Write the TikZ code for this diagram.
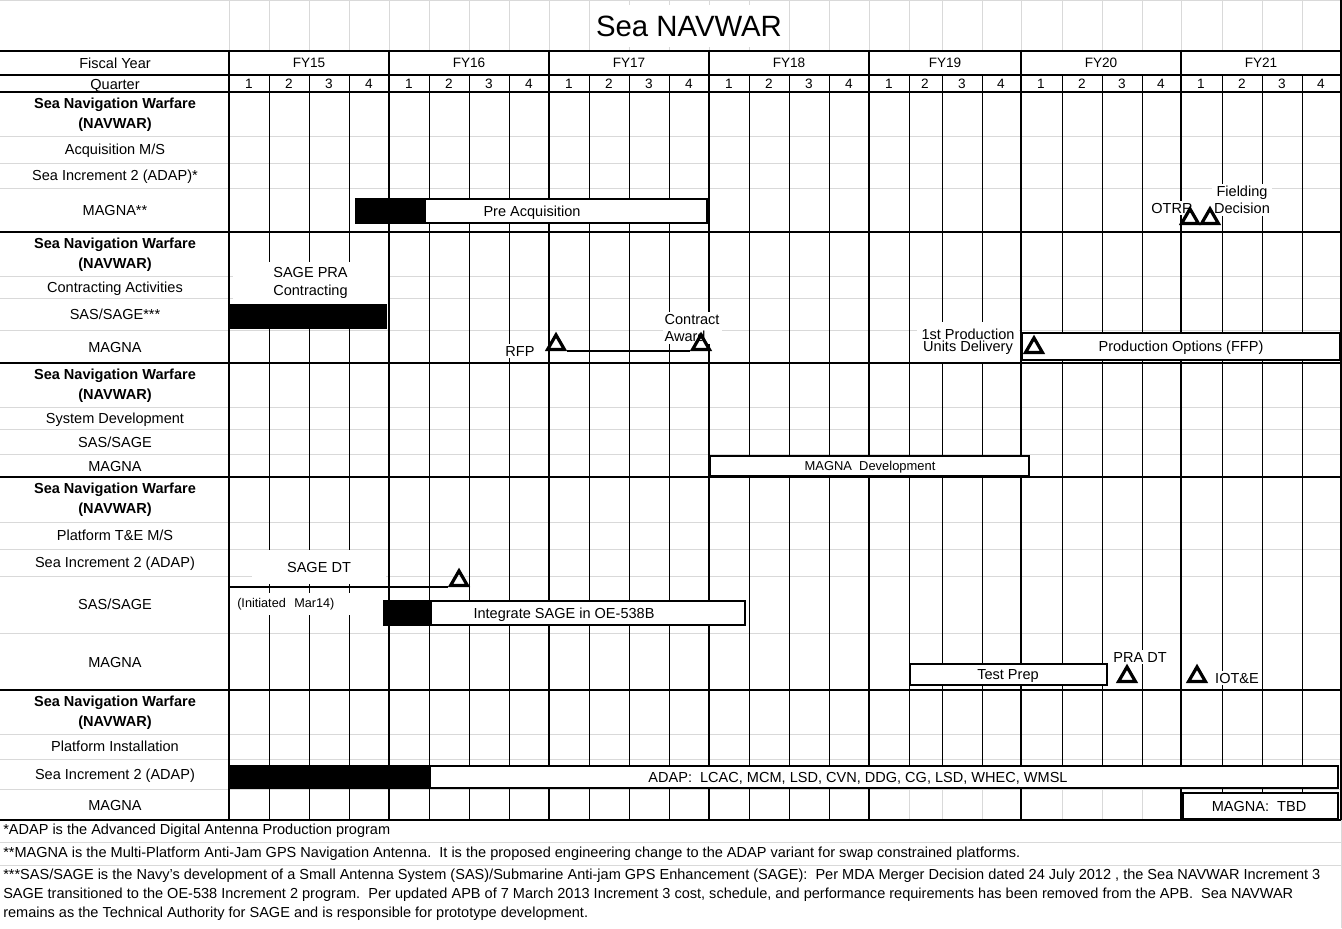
\documentclass[tikz,border=0pt]{standalone}
\usepackage{fontspec}
\setmainfont{Liberation Sans}
\usetikzlibrary{shapes.geometric,positioning}
\definecolor{gridgray}{HTML}{D9D9D9}
\newcommand\lblsize{\fontsize{10.9}{13.5}\selectfont}
\newcommand\fysize{\fontsize{10.2}{11}\selectfont}
\newcommand\notesize{\fontsize{9.5}{11}\selectfont}
\newcommand\titlesize{\fontsize{22}{24}\selectfont}
\tikzset{
  thingrid/.style={draw=gridgray, line width=0.75pt},
  qline/.style={draw=black, line width=0.75pt},
  fyline/.style={draw=black, line width=1.6pt},
  secline/.style={draw=black, line width=0.9pt},
  oneline/.style={text height=0.72em, text depth=0pt},
  rowlabel/.style={font=\lblsize, align=center, inner sep=0pt, oneline},
  sechead/.style={font=\lblsize\bfseries, align=center, inner sep=0pt},
  fytext/.style={font=\fysize, inner sep=0pt, oneline},
  charttext/.style={font=\lblsize, inner sep=0pt, oneline},
  maskbox/.style={fill=white, inner sep=1.5pt, align=center, font=\lblsize},
  barbox/.style={draw=black, fill=white, line width=2.2pt},
  barblack/.style={draw=black, fill=black, line width=2.2pt},
  milestone/.style={
    regular polygon,
    regular polygon sides=3,
    draw=black,
    line width=2.4pt,
    inner sep=0pt,
    minimum size=14.5pt,
    anchor=side 2
  },
  mslink/.style={draw=black, line width=1.9pt},
  footnote/.style={font=\fontsize{10.9}{14.25}\selectfont, anchor=west, align=left, inner sep=0pt}
}

\begin{document}
\begin{tikzpicture}[x=0.75pt, y=-0.75pt]
  \useasboundingbox (0,0) rectangle (1342,928);

  % header labels that sit under the lines
  \node[rowlabel] (fiscal) at (115,64) {Fiscal Year};
  \node[rowlabel] (quarter) at (115,85) {Quarter};

  % sheet grid
  \draw[thingrid] (0,0.5) -- (1341,0.5);
  \foreach \x in {229,269,309,349,389,429,469,509,549,589,629,669,709,749,789,829,869,909,942,982,1021,1062,1102,1142,1181,1222,1262,1302}
    \draw[thingrid] (\x,0) -- (\x,51);
  \foreach \y in {136,163,188,276,298,330,407,429,454,522,549,576,633,734,759,789,842,865}
    \draw[thingrid] (0,\y) -- (1341,\y);
  \draw[thingrid] (1341,820) -- (1341,928);

  % title
  \node[font=\titlesize, fill=white, minimum width=148pt, minimum height=32pt, inner sep=0pt] (title) at (689,26) {Sea NAVWAR};

  % quarter and fiscal year lines
  \foreach \x in {269,309,349,429,469,509,589,629,669,749,789,829,1222,1262,1302}
    \draw[qline] (\x,75) -- (\x,820);
  \foreach \x in {909,942,982,1062,1102,1142} {
    \draw[qline] (\x,75) -- (\x,789);
    \draw[thingrid] (\x,789) -- (\x,820);
  }
  \foreach \x in {229,389,549,709,869,1021,1181}
    \draw[fyline] (\x,51) -- (\x,820);
  \draw[fyline] (1341,0) -- (1341,820);
  \foreach \y in {75,232,363,477,690}
    \draw[secline] (0,\y) -- (1341,\y);
  \foreach \y in {51,92,820}
    \draw[fyline] (0,\y) -- (1341,\y);

  % time axis
  \foreach \c/\f in {309/15,469/16,629/17,789/18,945/19,1101/20,1261/21}
    \node[fytext] (fy\f) at (\c,63) {FY\f};
  \foreach \c [count=\i from 0] in {249,289,329,369,409,449,489,529,569,609,649,689,729,769,809,849,889,925,962,1001,1041,1082,1122,1161,1201,1242,1282,1321} {
    \pgfmathtruncatemacro{\q}{mod(\i,4)+1}
    \node[fytext] (q\i) at (\c,84) {\q};
  }

  % row labels
  \foreach \y in {115,255,386,500,713}
    \node[sechead] (head\y) at (115,\y) {Sea Navigation Warfare\\[1.5pt](NAVWAR)};
  \foreach \y/\t in {150/{Acquisition M/S}, 176/{Sea Increment 2 (ADAP)*}, 211/{MAGNA**},
      288/{Contracting Activities}, 315/{SAS/SAGE***}, 348/{MAGNA},
      419/{System Development}, 443/{SAS/SAGE}, 467/{MAGNA},
      536/{Platform T\&E M/S}, 563/{Sea Increment 2 (ADAP)}, 605/{SAS/SAGE}, 663/{MAGNA},
      747/{Platform Installation}, 775/{Sea Increment 2 (ADAP)}, 806/{MAGNA}}
    \node[rowlabel] (row\y) at (115,\y) {\t};

  % milestone labels
  \node[maskbox, minimum width=116pt, minimum height=31.5pt] (sagepra) at (310.5,283) {SAGE PRA\\Contracting};
  \node[maskbox] (rfplbl) at (520,351) {RFP};
  \node[maskbox, anchor=west, align=left, text width=42pt, inner xsep=1pt] (awardlbl) at (663,328) {Contract\\[-0.75pt]Award};
  \node[maskbox, minimum width=76pt, minimum height=30pt, inner sep=0pt] (prodlbl) at (968,342) {1st Production\\[-4.5pt]Units Delivery};
  \node[maskbox] (otrrlbl) at (1172,208) {OTRR};
  \node[maskbox] (fieldlbl) at (1242,200) {Fielding\\[-0.75pt]Decision};
  \node[maskbox, minimum width=100pt, minimum height=25pt] (sagedtlbl) at (319,567) {SAGE DT};
  \node[maskbox, font=\notesize, anchor=west, align=left, text width=84pt, inner xsep=3pt, inner ysep=4pt] (initlbl) at (233,604) {(Initiated\ \ Mar14)};
  \node[maskbox] (pradtlbl) at (1140,657) {PRA DT};
  \node[maskbox] (iotelbl) at (1237,678) {IOT\&E};

  % bars
  \draw[barblack] (356,199) rectangle (425,223);
  \draw[barbox] (425,199) rectangle (707,223);
  \node[charttext] (preacq) at (532,212) {Pre Acquisition};

  \fill (229,304) rectangle (387,329);

  \draw[barbox] (1022,333) rectangle (1340,360);
  \node[charttext] (prodopt) at (1181,347) {Production Options (FFP)};

  \draw[barbox] (710,456) rectangle (1029,476);
  \node[charttext, font=\fontsize{9.7}{11}\selectfont] (magnadev) at (870,466) {MAGNA\ \ Development};

  \draw[barblack] (384,601) rectangle (431,625);
  \draw[barbox] (431,601) rectangle (745,625);
  \node[charttext] (integrate) at (564,614) {Integrate SAGE in OE-538B};

  \draw[barbox] (910,664) rectangle (1107,685);
  \node[charttext] (testprep) at (1008,675) {Test Prep};

  \draw[barblack] (230,766) rectangle (430,788);
  \draw[barbox] (430,766) rectangle (1338,788);
  \node[charttext] (adap) at (858,778) {ADAP:\ \ LCAC, MCM, LSD, CVN, DDG, CG, LSD, WHEC, WMSL};

  \draw[barbox] (1183,793) rectangle (1338,819);
  \node[charttext] (magnatbd) at (1259,807) {MAGNA:\ \ TBD};

  % milestones
  \node[milestone] (otrr) at (1190,225) {};
  \node[milestone] (fielding) at (1210,225) {};
  \node[milestone] (rfp) at (556,351) {};
  \node[milestone] (award) at (701,351) {};
  \node[milestone] (produnits) at (1034,354) {};
  \node[milestone] (sagedt) at (459,587) {};
  \node[milestone] (pradt) at (1127,683) {};
  \node[milestone] (iote) at (1197,683) {};

  \draw[mslink] (rfp.corner 3) -- (award.corner 2);
  \coordinate (sagedtstart) at (229,587);
  \draw[mslink, line width=1.5pt] (sagedtstart) -- (sagedt.corner 2);

  % footnotes
  \node[footnote] (fn1) at (3,831) {*ADAP is the Advanced Digital Antenna Production program};
  \node[footnote] (fn2) at (3,854) {**MAGNA is the Multi-Platform Anti-Jam GPS Navigation Antenna.\ \ It is the proposed engineering change to the ADAP variant for swap constrained platforms.};
  \node[footnote] (fn3) at (3,895) {***SAS/SAGE is the Navy's development of a Small Antenna System (SAS)/Submarine Anti-jam GPS Enhancement (SAGE):\ \ Per MDA Merger Decision dated 24 July 2012 , the Sea NAVWAR Increment 3\\SAGE transitioned to the OE-538 Increment 2 program.\ \ Per updated APB of 7 March 2013 Increment 3 cost, schedule, and performance requirements has been removed from the APB.\ \ Sea NAVWAR\\remains as the Technical Authority for SAGE and is responsible for prototype development.};
\end{tikzpicture}
\end{document}
